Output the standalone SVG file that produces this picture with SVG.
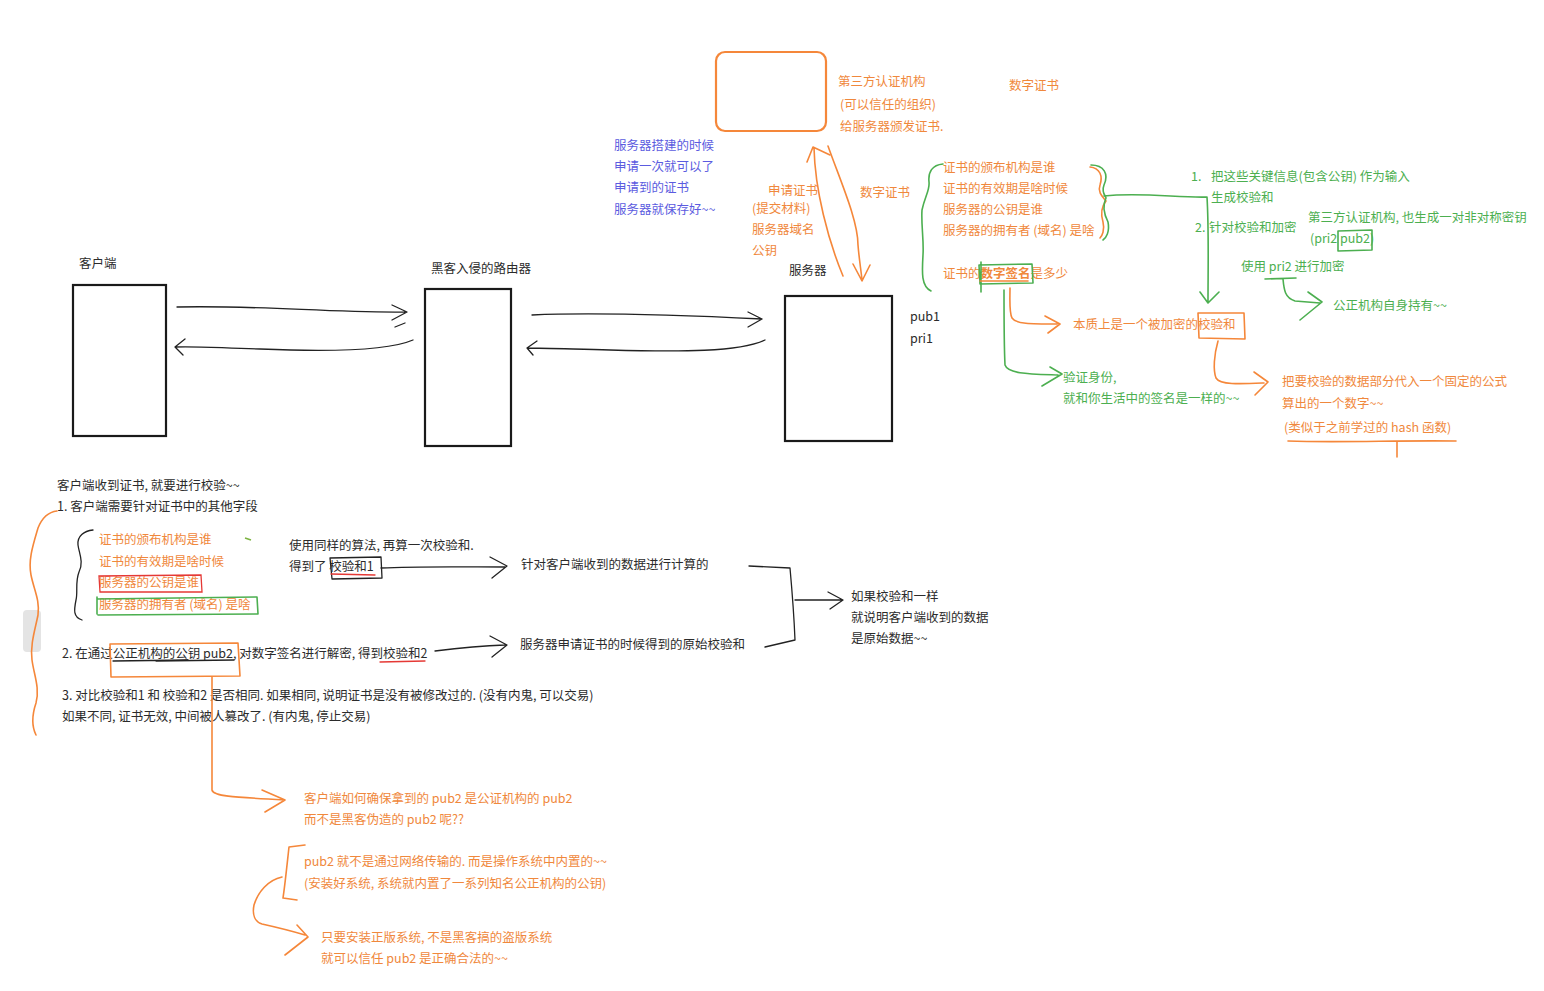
<svg xmlns="http://www.w3.org/2000/svg" width="1544" height="991" viewBox="0 0 1544 991">
<style>
text{font-family:"Noto Sans CJK SC","Microsoft YaHei",sans-serif;font-size:12.5px}
.k{fill:#2b2b2b}
.o{fill:#f0883c}
.g{fill:#4caf50}
.b{fill:#5b5be0}
.box{fill:#fff;stroke:#1a1a1a;stroke-width:2.2}
.lk{fill:none;stroke:#222;stroke-width:1.3;stroke-linecap:round;stroke-linejoin:round}
.lo{fill:none;stroke:#f5873a;stroke-width:1.6;stroke-linecap:round;stroke-linejoin:round}
.lg{fill:none;stroke:#4caf50;stroke-width:1.6;stroke-linecap:round;stroke-linejoin:round}
.lr{fill:none;stroke:#e53935;stroke-width:1.3;stroke-linecap:round}
</style>
<rect width="1544" height="991" fill="#fff"/>
<rect x="23" y="610" width="18" height="42" rx="4" fill="#e4e4e4"/>

<g id="client"><rect class="box" x="73" y="285" width="93" height="151"/><text class="k" x="79" y="268">客户端</text></g>
<g id="router"><rect class="box" x="425" y="289" width="86" height="157"/><text class="k" x="431" y="273">黑客入侵的路由器</text></g>
<g id="server"><rect class="box" x="785" y="296" width="107" height="145"/><text class="k" x="789" y="275">服务器</text><text class="k" x="910" y="321">pub1</text><text class="k" x="910" y="343">pri1</text></g>
<g id="ca"><rect x="716" y="52" width="110" height="79" rx="9" fill="none" stroke="#f5873a" stroke-width="2.2"/>
<text class="o" x="838" y="86">第三方认证机构</text><text class="o" x="840" y="109">(可以信任的组织)</text><text class="o" x="840" y="131">给服务器颁发证书.</text></g>
<g id="cert-label"><text class="o" x="1009" y="90">数字证书</text></g>
<g id="server-note"><text class="b" x="614" y="150">服务器搭建的时候</text><text class="b" x="614" y="171">申请一次就可以了</text><text class="b" x="614" y="192">申请到的证书</text><text class="b" x="614" y="214">服务器就保存好~~</text></g>
<g id="apply"><text class="o" x="768" y="195">申请证书</text><text class="o" x="752" y="213">(提交材料)</text><text class="o" x="752" y="234">服务器域名</text><text class="o" x="752" y="255">公钥</text></g>
<g id="issue"><text class="o" x="860" y="197">数字证书</text></g>
<g id="cert-fields">
<text class="o" x="943" y="172">证书的颁布机构是谁</text>
<text class="o" x="943" y="193">证书的有效期是啥时候</text>
<text class="o" x="943" y="214">服务器的公钥是谁</text>
<text class="o" x="943" y="235">服务器的拥有者 (域名) 是啥</text>
<text class="o" x="943" y="278">证书的<tspan font-weight="bold">数字签名</tspan>是多少</text>
</g>
<g id="checksum-steps">
<text class="g" x="1191" y="181">1.</text><text class="g" x="1211" y="181">把这些关键信息(包含公钥) 作为输入</text>
<text class="g" x="1211" y="202">生成校验和</text>
<text class="g" x="1195" y="232">2.</text><text class="g" x="1209" y="232">针对校验和加密</text>
<text class="g" x="1308" y="222">第三方认证机构, 也生成一对非对称密钥</text>
<text class="g" x="1310" y="243">(pri2 pub2)</text>
<text class="g" x="1241" y="271">使用 pri2 进行加密</text>
<text class="g" x="1333" y="310">公正机构自身持有~~</text>
</g>
<g id="essence"><text class="o" x="1073" y="329">本质上是一个被加密的校验和</text></g>
<g id="hash"><text class="o" x="1282" y="386">把要校验的数据部分代入一个固定的公式</text><text class="o" x="1282" y="408">算出的一个数字~~</text><text class="o" x="1284" y="432">(类似于之前学过的 hash 函数)</text></g>
<g id="identity"><text class="g" x="1063" y="382">验证身份,</text><text class="g" x="1063" y="403">就和你生活中的签名是一样的~~</text></g>

<g id="verify">
<text class="k" x="57" y="490">客户端收到证书, 就要进行校验~~</text>
<text class="k" x="57" y="511">1. 客户端需要针对证书中的其他字段</text>
<text class="o" x="99" y="544">证书的颁布机构是谁</text>
<text class="o" x="99" y="566">证书的有效期是啥时候</text>
<text class="o" x="99" y="587">服务器的公钥是谁</text>
<text class="o" x="99" y="609">服务器的拥有者 (域名) 是啥</text>
<text class="k" x="289" y="550">使用同样的算法, 再算一次校验和.</text>
<text class="k" x="289" y="571">得到了 校验和1</text>
<text class="k" x="62" y="658">2. 在通过公正机构的公钥 pub2, 对数字签名进行解密, 得到校验和2</text>
<text class="k" x="62" y="700">3. 对比校验和1 和 校验和2 是否相同. 如果相同, 说明证书是没有被修改过的. (没有内鬼, 可以交易)</text>
<text class="k" x="62" y="721">如果不同, 证书无效, 中间被人篡改了. (有内鬼, 停止交易)</text>
</g>
<g id="calc1"><text class="k" x="521" y="569">针对客户端收到的数据进行计算的</text></g>
<g id="calc2"><text class="k" x="520" y="649">服务器申请证书的时候得到的原始校验和</text></g>
<g id="same"><text class="k" x="851" y="601">如果校验和一样</text><text class="k" x="851" y="622">就说明客户端收到的数据</text><text class="k" x="851" y="643">是原始数据~~</text></g>
<g id="pub2-q"><text class="o" x="304" y="803">客户端如何确保拿到的 pub2 是公证机构的 pub2</text><text class="o" x="304" y="824">而不是黑客伪造的 pub2 呢??</text></g>
<g id="pub2-a"><text class="o" x="304" y="866">pub2 就不是通过网络传输的. 而是操作系统中内置的~~</text><text class="o" x="304" y="888">(安装好系统, 系统就内置了一系列知名公正机构的公钥)</text></g>
<g id="pub2-c"><text class="o" x="321" y="942">只要安装正版系统, 不是黑客搞的盗版系统</text><text class="o" x="321" y="963">就可以信任 pub2 是正确合法的~~</text></g>

<g id="connectors">
<!-- client/router/server black arrows -->
<path class="lk" d="M177,307 C260,305 330,313 405,312 M392,305 L407,312 L392,320 M395,327 L405,323"/>
<path class="lk" d="M413,340 C390,350 330,352 260,349 C220,348 195,346 175,347 M185,339 L175,347 L183,355"/>
<path class="lk" d="M532,315 C600,312 700,316 762,319 M748,312 L762,319 L748,327"/>
<path class="lk" d="M765,340 C740,352 680,352 610,350 C570,349 545,348 527,348 M537,341 L527,348 L533,355"/>
<!-- server <-> CA -->
<path class="lo" d="M843,276 C828,240 815,190 814,148 M807,162 L813,147 L830,155"/>
<path class="lo" d="M828,146 C840,180 858,220 858,245 C859,258 861,270 862,280 M853,264 L862,281 L870,265"/>
<!-- green brace left of fields -->
<path class="lg" d="M943,164 C932,165 928,172 929,182 C930,190 925,196 922,210 C921,225 924,240 923,255 C922,272 921,286 931,291"/>
<!-- right braces -->
<path class="lo" d="M1090,167 C1100,168 1103,176 1100,185 C1097,193 1104,198 1106,201 C1102,206 1100,212 1103,222 C1105,230 1102,236 1100,238"/>
<path class="lg" d="M1091,165 C1104,165 1109,174 1104,185 C1101,193 1106,196 1106,198 C1103,204 1103,212 1108,222 C1110,232 1106,238 1103,240"/>
<path class="lg" d="M1104,196 C1140,192 1180,198 1207,197 C1209,230 1208,270 1208,302 M1200,292 L1208,303 L1219,292"/>
<!-- pub2 box & pri2 underline -->
<path class="lg" d="M1338,231 L1372,230 L1372,250 L1338,251 Z"/>
<path class="lg" d="M1265,279 L1296,278 M1283,279 C1284,290 1285,298 1295,301 L1320,303 M1308,292 L1322,302 L1300,320"/>
<!-- 数字签名 box and lines -->
<path class="lg" d="M979,265 L1032,264 L1033,283 L980,284 Z M981,262 L981,292"/>
<path class="lo" d="M980,281 L1028,281"/>
<path class="lo" d="M1010,288 C1010,300 1009,312 1012,318 C1016,324 1030,324 1057,324 M1045,316 L1060,324 L1048,333"/>
<path class="lg" d="M1004,290 C1004,320 1004,345 1005,365 C1008,374 1030,374 1058,375 M1050,367 L1062,374 L1042,386"/>
<!-- 校验和 box -->
<path class="lo" d="M1198,313 L1244,313 L1245,339 L1199,338 Z"/>
<path class="lo" d="M1218,341 C1214,355 1213,370 1216,378 C1220,385 1240,384 1264,383 M1254,372 L1268,382 L1255,395"/>
<path class="lo" d="M1288,441 C1340,443 1400,440 1456,441 M1397,441 L1397,457"/>
<!-- bottom-left -->
<path class="lo" d="M57,511 C48,512 42,518 38,528 C33,545 28,560 31,575 C34,590 40,600 38,615 C35,630 30,645 32,660 C34,675 40,688 36,703 C32,715 31,725 36,735"/>
<path class="lk" d="M93,530 C84,531 77,536 78,545 C79,553 84,562 79,572 C75,582 78,592 76,600 C74,610 73,617 82,620"/>
<path d="M245,538 L251,540" stroke="#7cb342" stroke-width="1.5"/>
<path class="lr" d="M99,576 L201,575 L202,592 L100,592 Z"/>
<path class="lg" d="M97,599 L257,597 L258,614 L98,615 M97,597 L97,614"/>
<path class="lk" d="M330,558 L381,557 L382,578 L332,579 Z"/>
<path class="lr" d="M331,574 L375,575"/>
<path class="lk" d="M381,568 C420,566 470,567 505,567 M490,557 L507,566 L492,578"/>
<path class="lo" d="M110,644 L238,643 L240,676 L111,677 Z"/>
<path class="lk" d="M113,661 L188,660 M156,661 L234,660"/>
<path class="lr" d="M380,662 L425,661"/>
<path class="lk" d="M435,651 C460,648 480,646 505,645 M490,636 L507,645 L492,657"/>
<path class="lk" d="M749,566 L790,568 C792,590 794,615 795,640 L765,647 M795,600 L842,600 M828,592 L843,600 L830,609"/>
<path class="lo" d="M212,677 L212,790 C213,796 230,797 285,800 M262,790 L285,800 L265,812"/>
<path class="lo" d="M305,845 L289,847 C287,865 285,885 283,898 L297,900"/>
<path class="lo" d="M282,877 C268,880 258,892 254,905 C252,915 255,922 262,924 C280,928 295,932 305,935 M297,925 L308,937 L285,955"/>
</g>
</svg>
